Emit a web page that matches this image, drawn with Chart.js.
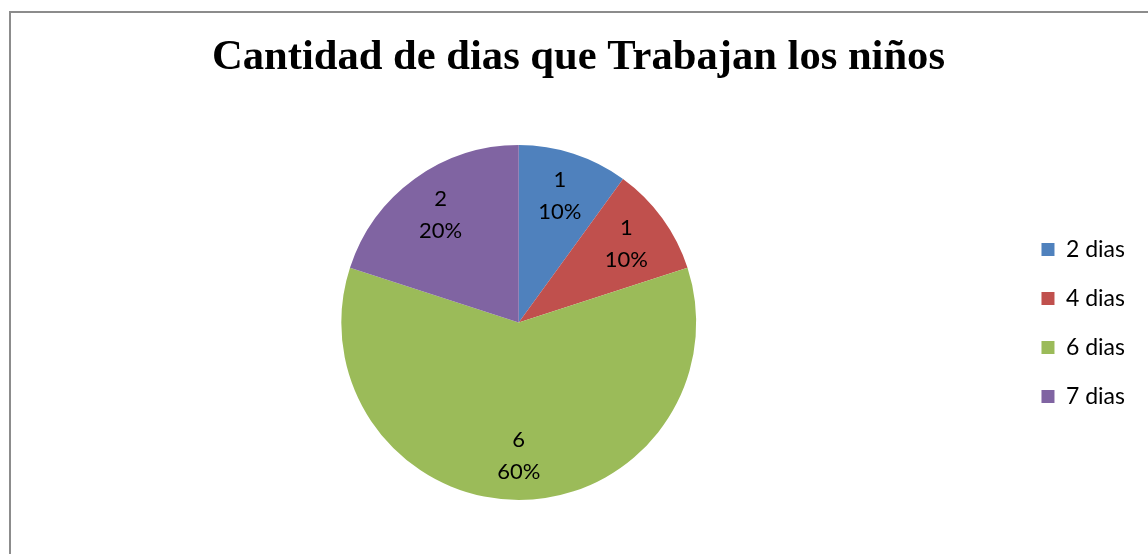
<!DOCTYPE html>
<html>
<head>
    <meta charset="utf-8">
    <title>Cantidad de dias que Trabajan los niños</title>
    <script src="https://cdn.jsdelivr.net/npm/chart.js@4.4.0/dist/chart.umd.min.js"></script>
    <style>
        html, body {
            margin: 0;
            padding: 0;
            background-color: white;
            overflow: hidden;
        }
        .frame {
            position: absolute;
            left: 9px;
            top: 11px;
            width: 1160px;
            height: 560px;
            border: 2px solid #8c8c8c;
            box-sizing: border-box;
        }
        .chart-container {
            position: absolute;
            left: 10px;
            top: 11px;
            width: 1152px;
            height: 543px;
        }
    </style>
</head>
<body>
    <div class="frame"></div>
    <div class="chart-container">
        <canvas id="pieChart"></canvas>
    </div>

    <script>
        const categories = ['2 dias', '4 dias', '6 dias', '7 dias'];
        const counts = [1, 1, 6, 2];
        const percents = ['10%', '10%', '60%', '20%'];
        const colors = ['#4F81BD', '#C0504D', '#9BBB59', '#8064A2'];

        // draws "value / percent" inside each slice, about 3/4 of the way out
        const sliceLabels = {
            id: 'sliceLabels',
            afterDatasetsDraw(chart) {
                const ctx = chart.ctx;
                const meta = chart.getDatasetMeta(0);
                ctx.save();
                ctx.font = '22px Lato';
                ctx.fillStyle = '#000';
                ctx.textAlign = 'center';
                ctx.textBaseline = 'middle';
                meta.data.forEach((arc, i) => {
                    const p = arc.getProps(['x', 'y', 'startAngle', 'endAngle', 'outerRadius']);
                    const mid = (p.startAngle + p.endAngle) / 2;
                    const r = p.outerRadius * 0.75;
                    const x = p.x + Math.cos(mid) * r;
                    const y = p.y + Math.sin(mid) * r;
                    ctx.fillText(String(counts[i]), x, y - 16);
                    ctx.fillText(percents[i], x, y + 16);
                });
                ctx.restore();
            }
        };

        new Chart(document.getElementById('pieChart'), {
            type: 'pie',
            data: {
                labels: categories,
                datasets: [{
                    data: counts,
                    backgroundColor: colors,
                    borderWidth: 0
                }]
            },
            options: {
                responsive: true,
                maintainAspectRatio: false,
                animation: false,
                layout: {
                    padding: { top: 0, bottom: 54, left: 12, right: 27 }
                },
                plugins: {
                    title: {
                        display: true,
                        text: 'Cantidad de dias que Trabajan los niños',
                        color: '#000',
                        font: { family: 'Liberation Serif', size: 42.6, weight: 'bold' },
                        padding: { top: 21, bottom: 62 }
                    },
                    legend: {
                        position: 'right',
                        title: {
                            display: true,
                            text: ' ',
                            font: { size: 10 },
                            padding: { top: 123, bottom: 0 }
                        },
                        labels: {
                            boxWidth: 13,
                            boxHeight: 13,
                            padding: 26,
                            color: '#000',
                            font: { family: 'Lato', size: 23 }
                        }
                    },
                    tooltip: { enabled: false }
                }
            },
            plugins: [sliceLabels]
        });
    </script>
</body>
</html>
